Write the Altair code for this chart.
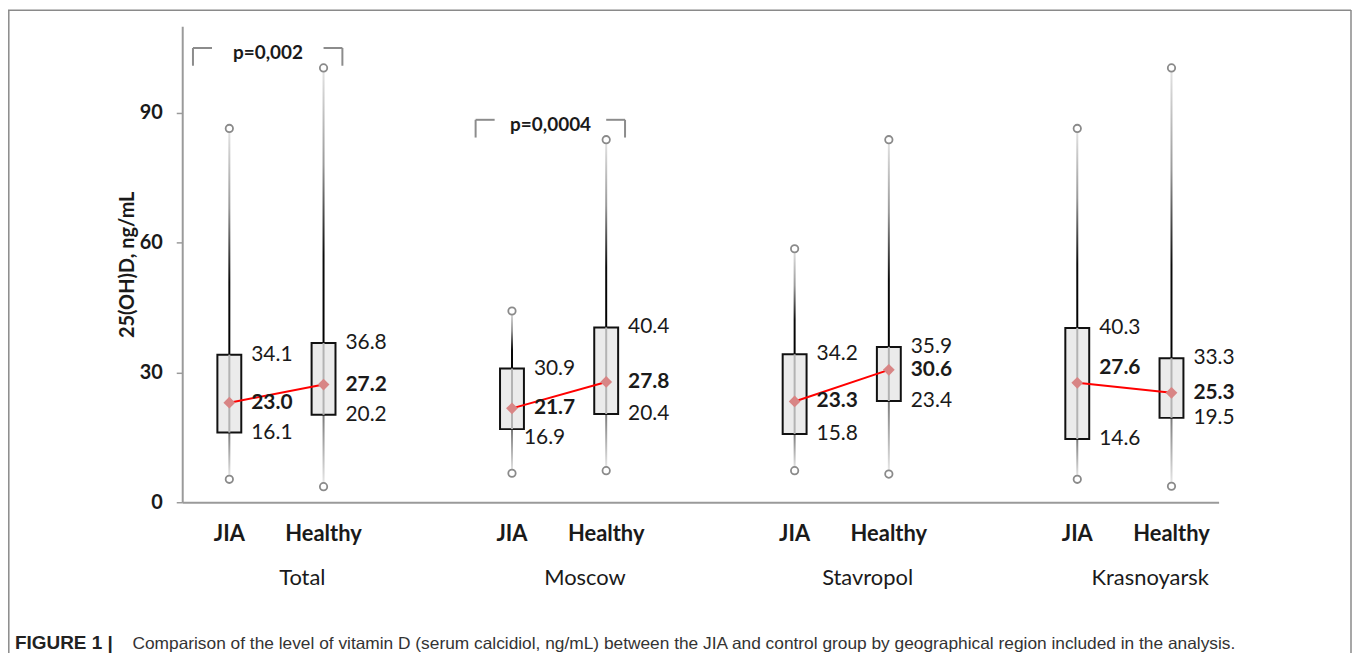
import altair as alt
import pandas as pd

# ---------------- data ----------------
regions = ["Total", "Moscow", "Stavropol", "Krasnoyarsk"]
groups = ["JIA", "Healthy"]

jia_min = [5.3, 6.7, 7.3, 5.3]
jia_q1 = [16.1, 16.9, 15.8, 14.6]
jia_median = [23.0, 21.7, 23.3, 27.6]
jia_q3 = [34.1, 30.9, 34.2, 40.3]
jia_max = [86.4, 44.2, 58.6, 86.4]

healthy_min = [3.6, 7.3, 6.5, 3.7]
healthy_q1 = [20.2, 20.4, 23.4, 19.5]
healthy_median = [27.2, 27.8, 30.6, 25.3]
healthy_q3 = [36.8, 40.4, 35.9, 33.3]
healthy_max = [100.4, 83.8, 83.8, 100.4]

p_regions = ["Total", "Moscow"]
p_labels = ["p=0,002", "p=0,0004"]

y_ticks = [0, 30, 60, 90]
y_title = "25(OH)D, ng/mL"
caption_head = ["FIGURE 1 |"]
caption_body = ["Comparison of the level of vitamin D (serum calcidiol, ng/mL) between the JIA and control group by geographical region included in the analysis."]

# ---------------- tables ----------------
rows = []
for i, r in enumerate(regions):
    rows.append(dict(region=r, group="JIA", vmin=jia_min[i], q1=jia_q1[i], median=jia_median[i], q3=jia_q3[i], vmax=jia_max[i]))
    rows.append(dict(region=r, group="Healthy", vmin=healthy_min[i], q1=healthy_q1[i], median=healthy_median[i], q3=healthy_q3[i], vmax=healthy_max[i]))
box = pd.DataFrame(rows)

wide = pd.DataFrame(dict(region=regions, jia_med=jia_median, h_med=healthy_median))

lab_rows = []
for _, rr in box.iterrows():
    for stat in ["q1", "median", "q3"]:
        lab_rows.append(dict(region=rr.region, group=rr.group, stat=stat, value=rr[stat],
                             txt=f"{rr[stat]:.1f}", key=f"{rr.region}|{rr.group}|{stat}"))
labels = pd.DataFrame(lab_rows)

ext = pd.DataFrame(
    [dict(region=r.region, group=r.group, v=r.vmin) for r in box.itertuples()]
    + [dict(region=r.region, group=r.group, v=r.vmax) for r in box.itertuples()]
)

br = pd.DataFrame(dict(region=p_regions, label=p_labels))
br["top"] = [max(jia_max[regions.index(r)], healthy_max[regions.index(r)]) + 4.6 for r in p_regions]

W, H = 1041, 478
FONT = "Lato"
TXT = "#1a1a1a"
GRAY = "#9a9a9a"

xs = alt.Scale(domain=regions, paddingInner=1 / 3, paddingOuter=0)
xo = alt.Scale(domain=groups, paddingInner=0, paddingOuter=0)
ys = alt.Scale(domain=[0, 110], nice=False, zero=True)

X = alt.X("region:N", scale=xs, sort=regions,
          axis=alt.Axis(labels=False, ticks=False, title=None, grid=False,
                        domainColor=GRAY, domainWidth=2))
XO = alt.XOffset("group:N", scale=xo, sort=groups)


def Y(field):
    return alt.Y(field, type="quantitative", scale=ys,
                 axis=alt.Axis(values=y_ticks, grid=False, domainColor=GRAY, domainWidth=2,
                               tickColor=GRAY, tickSize=6, tickWidth=1.5,
                               labelFont=FONT, labelFontWeight="bold", labelFontSize=20,
                               labelColor=TXT, labelPadding=14,
                               title=y_title, titleFont=FONT, titleFontWeight="bold",
                               titleFontSize=20, titleColor=TXT, titleAngle=270,
                               titleX=-55, titleY=239, titleAlign="center",
                               titleBaseline="middle"))


base = alt.Chart(box)

upper_grad = alt.Gradient(gradient="linear", x1=0, x2=0, y1=0, y2=1, stops=[
    alt.GradientStop(offset=0, color="#e4e4e4"),
    alt.GradientStop(offset=0.35, color="#9a9a9a"),
    alt.GradientStop(offset=0.68, color="#0a0a0a"),
    alt.GradientStop(offset=1, color="#000000"),
])
lower_grad = alt.Gradient(gradient="linear", x1=0, x2=0, y1=0, y2=1, stops=[
    alt.GradientStop(offset=0, color="#7a7a7a"),
    alt.GradientStop(offset=1, color="#ececec"),
])

upper = base.mark_bar(width=2, color=upper_grad).encode(x=X, xOffset=XO, y=Y("vmax"), y2="q3")
lower = base.mark_bar(width=2, color=lower_grad).encode(x=X, xOffset=XO, y=Y("q1"), y2="vmin")
boxes = base.mark_bar(width=24, fill="#ebebeb", stroke="#111111", strokeWidth=2).encode(
    x=X, xOffset=XO, y=Y("q3"), y2="q1")
inner = base.mark_bar(width=2, color="#b3b3b3").encode(x=X, xOffset=XO, y=Y("q3"), y2="q1")

redline = alt.Chart(wide).mark_rule(color="#ff0000", strokeWidth=2).encode(
    x=alt.X("region:N", scale=xs, sort=regions, bandPosition=0.25),
    x2=alt.X2("region", bandPosition=0.75),
    y=Y("jia_med"), y2="h_med")

diam = base.mark_point(shape="diamond", filled=True, size=140, color="#d88585", opacity=1).encode(
    x=X, xOffset=XO, y=Y("median"))

circ = alt.Chart(ext).mark_point(shape="circle", filled=False, size=55, stroke="#8a8a8a",
                                 strokeWidth=1.8, fill="white", fillOpacity=1, opacity=1).encode(
    x=X, xOffset=XO, y=Y("v"))

NUMSIZE = 21
lab = alt.Chart(labels)
special = ["Moscow|JIA|q1", "Krasnoyarsk|JIA|median"]
lab_norm = lab.transform_filter(
    (alt.datum.stat != "median") & (alt.datum.key != special[0])
).mark_text(align="left", baseline="middle", dx=22, font=FONT, fontSize=NUMSIZE, color=TXT).encode(
    x=X, xOffset=XO, y=Y("value"), text="txt:N")
lab_bold = lab.transform_filter(
    (alt.datum.stat == "median") & (alt.datum.key != special[1])
).mark_text(align="left", baseline="middle", dx=22, font=FONT, fontSize=NUMSIZE, fontWeight="bold",
            color=TXT).encode(x=X, xOffset=XO, y=Y("value"), text="txt:N")
lab_s1 = lab.transform_filter(alt.datum.key == special[0]).mark_text(
    align="left", baseline="middle", dx=12, dy=9, font=FONT, fontSize=NUMSIZE, color=TXT).encode(
    x=X, xOffset=XO, y=Y("value"), text="txt:N")
lab_s2 = lab.transform_filter(alt.datum.key == special[1]).mark_text(
    align="left", baseline="middle", dx=22, dy=-15, font=FONT, fontSize=NUMSIZE, fontWeight="bold",
    color=TXT).encode(x=X, xOffset=XO, y=Y("value"), text="txt:N")

grp_lab = base.mark_text(baseline="middle", font=FONT, fontSize=22, fontWeight="bold", color=TXT).encode(
    x=X, xOffset=XO, y=alt.value(H + 32), text="group:N")
reg_lab = alt.Chart(pd.DataFrame(dict(region=regions))).mark_text(
    baseline="middle", dx=26, font=FONT, fontSize=22, color=TXT).encode(
    x=X, y=alt.value(H + 76), text="region:N")

# significance brackets
bb = alt.Chart(br).transform_calculate(bot="datum.top - 4.1", ty="datum.top - 1.2")
BC = "#8c8c8c"


def bx(p):
    return alt.X("region:N", scale=xs, sort=regions, bandPosition=p)


b1 = bb.mark_rule(color=BC, strokeWidth=2).encode(x=bx(0.057), y=Y("top"), y2="bot:Q")
b2 = bb.mark_rule(color=BC, strokeWidth=2).encode(x=bx(0.057), x2=alt.X2("region", bandPosition=0.158), y=Y("top"))
b3 = bb.mark_rule(color=BC, strokeWidth=2).encode(x=bx(0.75), x2=alt.X2("region", bandPosition=0.85), y=Y("top"))
b4 = bb.mark_rule(color=BC, strokeWidth=2).encode(x=bx(0.85), y=Y("top"), y2="bot:Q")
bt = bb.mark_text(baseline="middle", font=FONT, fontSize=19, fontWeight="bold", color=TXT).encode(
    x=bx(0.455), y=Y("ty:Q"), text="label:N")

# caption and frame
CAPFONT = "Liberation Sans"
cap1 = alt.Chart(pd.DataFrame(dict(t=caption_head))).mark_text(
    align="left", baseline="alphabetic", font=CAPFONT, fontSize=19, fontWeight="bold",
    color="#222222").encode(x=alt.value(-168), y=alt.value(625), text="t:N")
cap2 = alt.Chart(pd.DataFrame(dict(t=caption_body))).mark_text(
    align="left", baseline="alphabetic", font=CAPFONT, fontSize=17.4,
    color="#333333").encode(x=alt.value(-50), y=alt.value(625), text="t:N")

one = pd.DataFrame(dict(a=[0]))
FR = "#8a8a8a"
fr_left = alt.Chart(one).mark_rule(color=FR, strokeWidth=1.5).encode(
    x=alt.value(-174.2), y=alt.value(-16.5), y2=alt.value(640))
fr_top = alt.Chart(one).mark_rule(color=FR, strokeWidth=1.5).encode(
    x=alt.value(-175), x2=alt.value(1174), y=alt.value(-16.2))
fr_right = alt.Chart(one).mark_rule(color=FR, strokeWidth=1.5).encode(
    x=alt.value(1174), y=alt.value(-16.5), y2=alt.value(640))

chart = alt.layer(
    upper, lower, boxes, inner, redline, diam, circ,
    lab_norm, lab_bold, lab_s1, lab_s2, grp_lab, reg_lab,
    b1, b2, b3, b4, bt, cap1, cap2, fr_left, fr_top, fr_right,
).resolve_scale(x="shared", y="shared").properties(
    width=W, height=H,
    autosize=alt.AutoSizeParams(type="none"),
    padding={"left": 175, "top": 17, "right": 134, "bottom": 150},
    background="white",
).configure_view(stroke=None)

chart.save("out.html", embed_options={"renderer": "svg", "actions": False})
